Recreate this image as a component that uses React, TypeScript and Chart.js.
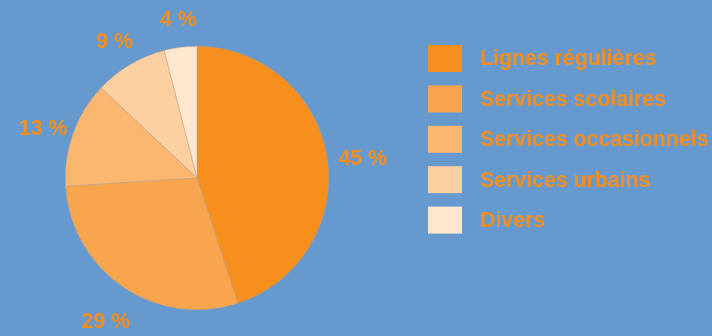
import React, { useEffect, useRef } from "react";
import { Chart, registerables } from "chart.js";

Chart.register(...registerables);

const categories = [
  "Lignes régulières",
  "Services scolaires",
  "Services occasionnels",
  "Services urbains",
  "Divers",
];
const shares = [45, 29, 13, 9, 4];
const sliceColors = ["#F68F1E", "#F9A54E", "#FBB670", "#FCCFA1", "#FFE7CF"];

const BG = "#6699CE";
const TEXT = "#F68F1E";
const FONT = "bold 21.3px 'Liberation Sans', Arial, sans-serif";

const labelPlugin = {
  id: "outerLabels",
  afterDatasetsDraw(chart: any) {
    const ctx = chart.ctx;
    const meta = chart.getDatasetMeta(0);
    const ds = chart.data.datasets[0];
    ctx.save();
    ctx.font = FONT;
    ctx.fillStyle = TEXT;
    ctx.textAlign = "center";
    ctx.textBaseline = "middle";
    meta.data.forEach((arc: any, i: number) => {
      const p = arc.getProps(["x", "y", "startAngle", "endAngle", "outerRadius"], true);
      const mid = (p.startAngle + p.endAngle) / 2;
      const d = p.outerRadius + 34;
      const x = p.x + Math.cos(mid) * d + 2;
      const y = p.y + Math.sin(mid) * d + 7;
      ctx.fillText(`${ds.data[i]} %`, x, y);
    });
    ctx.restore();
  },
};

const legendPlugin = {
  id: "sideLegend",
  afterDraw(chart: any) {
    const ctx = chart.ctx;
    const labels = chart.data.labels as string[];
    const colors = chart.data.datasets[0].backgroundColor as string[];
    const left = 428;
    const top = 45;
    const step = 40.4;
    const bw = 34;
    const bh = 27;
    ctx.save();
    ctx.font = FONT;
    ctx.textBaseline = "middle";
    ctx.textAlign = "left";
    labels.forEach((lab, i) => {
      const y = top + i * step;
      ctx.fillStyle = colors[i];
      ctx.fillRect(left, y, bw, bh);
      ctx.fillStyle = TEXT;
      ctx.fillText(lab, left + bw + 18, y + bh / 2 + 1);
    });
    ctx.restore();
  },
};

export default function App() {
  const ref = useRef<HTMLCanvasElement>(null);
  useEffect(() => {
    document.body.style.margin = "0";
    const chart = new Chart(ref.current!, {
      type: "pie",
      data: {
        labels: categories,
        datasets: [
          {
            data: shares,
            backgroundColor: sliceColors,
            borderColor: "rgba(190,160,130,0.8)",
            borderWidth: 0.6,
          },
        ],
      },
      options: {
        animation: false,
        responsive: false,
        maintainAspectRatio: false,
        layout: { padding: { top: 46, bottom: 26, left: 65, right: 383 } },
        plugins: {
          legend: { display: false },
          tooltip: { enabled: false },
        },
      },
      plugins: [labelPlugin, legendPlugin],
    });
    return () => chart.destroy();
  }, []);
  return (
    <div style={{ position: "fixed", left: 0, top: 0, width: 712, height: 336, background: BG }}>
      <canvas ref={ref} width={712} height={336} style={{ width: 712, height: 336, display: "block" }} />
    </div>
  );
}
